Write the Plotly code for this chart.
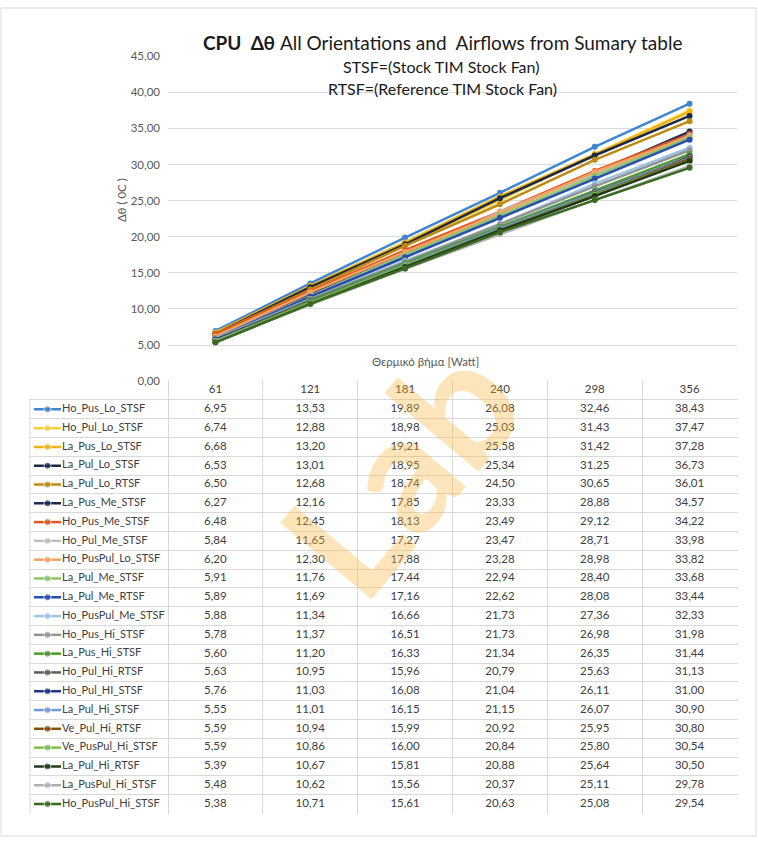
import plotly.graph_objects as go

# Θερμικό βήμα (Watt) - κατηγορίες άξονα x
watts = ["61", "121", "181", "240", "298", "356"]

series_names = [
    "Ho_Pus_Lo_STSF", "Ho_Pul_Lo_STSF", "La_Pus_Lo_STSF", "La_Pul_Lo_STSF",
    "La_Pul_Lo_RTSF", "La_Pus_Me_STSF", "Ho_Pus_Me_STSF", "Ho_Pul_Me_STSF",
    "Ho_PusPul_Lo_STSF", "La_Pul_Me_STSF", "La_Pul_Me_RTSF", "Ho_PusPul_Me_STSF",
    "Ho_Pus_Hi_STSF", "La_Pus_Hi_STSF", "Ho_Pul_Hi_RTSF", "Ho_Pul_HI_STSF",
    "La_Pul_Hi_STSF", "Ve_Pul_Hi_RTSF", "Ve_PusPul_Hi_STSF", "La_Pul_Hi_RTSF",
    "La_PusPul_Hi_STSF", "Ho_PusPul_Hi_STSF",
]

ho_pus_lo_stsf = [6.95, 13.53, 19.89, 26.08, 32.46, 38.43]
ho_pul_lo_stsf = [6.74, 12.88, 18.98, 25.03, 31.43, 37.47]
la_pus_lo_stsf = [6.68, 13.20, 19.21, 25.58, 31.42, 37.28]
la_pul_lo_stsf = [6.53, 13.01, 18.95, 25.34, 31.25, 36.73]
la_pul_lo_rtsf = [6.50, 12.68, 18.74, 24.50, 30.65, 36.01]
la_pus_me_stsf = [6.27, 12.16, 17.85, 23.33, 28.88, 34.57]
ho_pus_me_stsf = [6.48, 12.45, 18.13, 23.49, 29.12, 34.22]
ho_pul_me_stsf = [5.84, 11.65, 17.27, 23.47, 28.71, 33.98]
ho_puspul_lo_stsf = [6.20, 12.30, 17.88, 23.28, 28.98, 33.82]
la_pul_me_stsf = [5.91, 11.76, 17.44, 22.94, 28.40, 33.68]
la_pul_me_rtsf = [5.89, 11.69, 17.16, 22.62, 28.08, 33.44]
ho_puspul_me_stsf = [5.88, 11.34, 16.66, 21.73, 27.36, 32.33]
ho_pus_hi_stsf = [5.78, 11.37, 16.51, 21.73, 26.98, 31.98]
la_pus_hi_stsf = [5.60, 11.20, 16.33, 21.34, 26.35, 31.44]
ho_pul_hi_rtsf = [5.63, 10.95, 15.96, 20.79, 25.63, 31.13]
ho_pul_hi_stsf = [5.76, 11.03, 16.08, 21.04, 26.11, 31.00]
la_pul_hi_stsf = [5.55, 11.01, 16.15, 21.15, 26.07, 30.90]
ve_pul_hi_rtsf = [5.59, 10.94, 15.99, 20.92, 25.95, 30.80]
ve_puspul_hi_stsf = [5.59, 10.86, 16.00, 20.84, 25.80, 30.54]
la_pul_hi_rtsf = [5.39, 10.67, 15.81, 20.88, 25.64, 30.50]
la_puspul_hi_stsf = [5.48, 10.62, 15.56, 20.37, 25.11, 29.78]
ho_puspul_hi_stsf = [5.38, 10.71, 15.61, 20.63, 25.08, 29.54]

series_values = [
    ho_pus_lo_stsf, ho_pul_lo_stsf, la_pus_lo_stsf, la_pul_lo_stsf,
    la_pul_lo_rtsf, la_pus_me_stsf, ho_pus_me_stsf, ho_pul_me_stsf,
    ho_puspul_lo_stsf, la_pul_me_stsf, la_pul_me_rtsf, ho_puspul_me_stsf,
    ho_pus_hi_stsf, la_pus_hi_stsf, ho_pul_hi_rtsf, ho_pul_hi_stsf,
    la_pul_hi_stsf, ve_pul_hi_rtsf, ve_puspul_hi_stsf, la_pul_hi_rtsf,
    la_puspul_hi_stsf, ho_puspul_hi_stsf,
]

colors = [
    "#3F86D0", "#F2D03A", "#F2B30C", "#1C2A48",
    "#BF8A10", "#1B2C50", "#E2561E", "#BDBDBD",
    "#F4A263", "#8CC466", "#2A4DB4", "#9CC3E8",
    "#939393", "#4E9A2C", "#5E5E5E", "#1F3484",
    "#709AD8", "#84500E", "#7ABF4C", "#24381A",
    "#B0B0B0", "#396A22",
]

W, H = 758, 844
FONT = "Lato"
TXT = "#404040"
AX = "#595959"
GRID = "#d9d9d9"

# pixel geometry (top-down)
PLOT_L, PLOT_R = 168, 737
PLOT_T, PLOT_B = 50, 380
TAB_L, TAB_B = 30, 819
N = len(series_names)
ROW_H = (TAB_B - PLOT_B) / (N + 1)          # header row + data rows
COL_W = (PLOT_R - PLOT_L) / len(watts)
PAD = 1                                      # px of slack round the grid


def px(x):
    return x / W


def py(y):
    return 1 - y / H


def fmt(v):
    return f"{v:.2f}".replace(".", ",")


col_centers = [PLOT_L + COL_W * (i + 0.5) for i in range(len(watts))]
col_edges = [PLOT_L + COL_W * i for i in range(len(watts) + 1)]
rows = list(range(N))

fig = go.Figure()

# Γραμμές δεδομένων
for name, vals, col in zip(series_names, series_values, colors):
    fig.add_trace(go.Scatter(
        x=watts, y=vals, name=name, mode="lines+markers",
        line=dict(color=col, width=2.5),
        marker=dict(color=col, size=6),
        xaxis="x", yaxis="y",
    ))

# Πίνακας δεδομένων (x2 σε pixel, y2 σε γραμμές: -1 = κεφαλίδα)
fig.add_trace(go.Scatter(
    x=col_centers, y=[-1] * len(watts), text=watts, mode="text",
    textfont=dict(family=FONT, size=11.5, color=TXT),
    xaxis="x2", yaxis="y2", hoverinfo="skip",
))
for i in range(len(watts)):
    fig.add_trace(go.Scatter(
        x=[col_centers[i]] * N, y=rows,
        text=[fmt(v[i]) for v in series_values], mode="text",
        textfont=dict(family=FONT, size=11.5, color=TXT),
        xaxis="x2", yaxis="y2", hoverinfo="skip",
    ))

# Κλειδιά υπομνήματος στην πρώτη στήλη
KEY_X = [TAB_L + 4, TAB_L + 17.5, TAB_L + 31]
for r, col in zip(rows, colors):
    fig.add_trace(go.Scatter(
        x=KEY_X, y=[r] * 3, mode="lines+markers",
        line=dict(color=col, width=2.5),
        marker=dict(color=col, size=[0, 7, 0]),
        xaxis="x2", yaxis="y2", hoverinfo="skip",
    ))
fig.add_trace(go.Scatter(
    x=[TAB_L + 32] * N, y=rows, mode="text",
    text=series_names, textposition="middle right",
    textfont=dict(family=FONT, size=11, color=TXT),
    xaxis="x2", yaxis="y2", hoverinfo="skip",
))

fig.update_layout(
    width=W, height=H,
    margin=dict(l=0, r=0, t=0, b=0),
    paper_bgcolor="white", plot_bgcolor="rgba(0,0,0,0)",
    showlegend=False,
    separators=", ",
    font=dict(family=FONT, size=11.5, color=AX),
    xaxis=dict(
        type="category", domain=[px(PLOT_L), px(PLOT_R)],
        range=[-0.5, len(watts) - 0.5],
        showticklabels=False, showgrid=False, zeroline=False, showline=False,
        anchor="y",
    ),
    yaxis=dict(
        domain=[py(PLOT_B), py(PLOT_T)], range=[0, 45], dtick=5,
        tickformat=".2f", gridcolor=GRID, gridwidth=1, zeroline=False,
        showline=False, ticks="", ticklabelstandoff=7,
        tickfont=dict(family=FONT, size=11.5, color=AX),
        anchor="x",
    ),
    xaxis2=dict(
        domain=[px(TAB_L - PAD), px(PLOT_R + PAD)],
        range=[TAB_L - PAD, PLOT_R + PAD],
        tickmode="array", tickvals=col_edges, showticklabels=False,
        showgrid=True, gridcolor=GRID, gridwidth=1, zeroline=False,
        fixedrange=True, anchor="y2",
    ),
    yaxis2=dict(
        domain=[py(TAB_B + PAD), py(PLOT_B - PAD)],
        range=[N - 0.5 + PAD / ROW_H, -1.5 - PAD / ROW_H],
        tickmode="array", tickvals=[r - 0.5 for r in range(N + 1)],
        showticklabels=False, showgrid=True, gridcolor=GRID, gridwidth=1,
        zeroline=False, fixedrange=True, anchor="x2",
    ),
    shapes=[
        dict(type="rect", xref="paper", yref="paper",
             x0=px(1), x1=px(W - 2), y0=py(H - 2), y1=py(1),
             line=dict(color=GRID, width=1), layer="below"),
        # αριστερό περίγραμμα της στήλης ονομάτων
        dict(type="line", xref="x2", yref="y2",
             x0=TAB_L, x1=TAB_L, y0=-0.5, y1=N - 0.5,
             line=dict(color=GRID, width=1), layer="below"),
    ],
    annotations=[
        dict(text="<b>CPU  Δθ</b> All Orientations and  Airflows from Sumary table",
             x=px(442), y=py(36), xref="paper", yref="paper", showarrow=False,
             xanchor="center", yanchor="middle",
             font=dict(family=FONT, size=19, color="#1a1a1a")),
        dict(text="STSF=(Stock TIM Stock Fan)",
             x=px(441), y=py(60), xref="paper", yref="paper", showarrow=False,
             xanchor="center", yanchor="middle",
             font=dict(family=FONT, size=16, color="#1a1a1a")),
        dict(text="RTSF=(Reference TIM Stock Fan)",
             x=px(442), y=py(83), xref="paper", yref="paper", showarrow=False,
             xanchor="center", yanchor="middle",
             font=dict(family=FONT, size=16, color="#1a1a1a")),
        dict(text="Θερμικό βήμα [Watt]",
             x=px(425), y=py(360), xref="paper", yref="paper", showarrow=False,
             xanchor="center", yanchor="middle",
             font=dict(family=FONT, size=11.5, color=AX)),
        dict(text="Δθ ( 0C )", textangle=-90,
             x=px(122), y=py(196), xref="paper", yref="paper", showarrow=False,
             xanchor="center", yanchor="middle",
             font=dict(family=FONT, size=11.5, color=AX)),
        # υδατογράφημα
        dict(text="Lab", textangle=-50,
             x=px(398), y=py(468), xref="paper", yref="paper",
             showarrow=False, xanchor="center", yanchor="middle",
             font=dict(family=FONT, size=165, weight="bold",
                       color="rgba(248,184,64,0.36)")),
    ],
)

fig.write_html(
    "out.html",
    config={"displayModeBar": False},
    post_script="document.documentElement.style.overflow='hidden';"
                "document.body.style.margin='0px';"
                "document.body.style.overflow='hidden';",
)
